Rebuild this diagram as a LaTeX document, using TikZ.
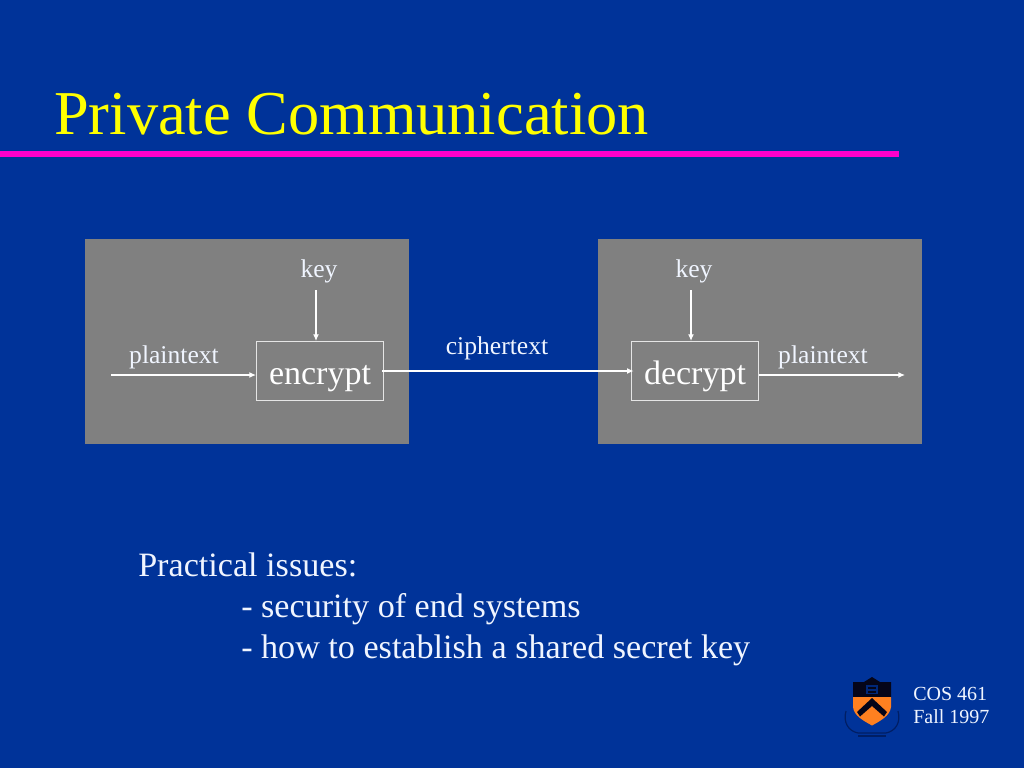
\documentclass[tikz,border=0pt]{standalone}
\usepackage{fontspec}
\setmainfont{Liberation Serif}
\usetikzlibrary{arrows.meta}
\definecolor{bg}{RGB}{0,51,153}
\definecolor{panel}{RGB}{128,128,128}
\definecolor{ttl}{RGB}{255,255,0}
\definecolor{rule}{RGB}{255,0,204}
\definecolor{txt}{RGB}{240,245,255}
\definecolor{shield}{RGB}{255,128,32}
\definecolor{crest}{RGB}{5,5,25}
\definecolor{scroll}{RGB}{0,30,100}
\newcommand{\fs}[1]{\fontsize{#1}{#1}\selectfont}
\tikzset{
 x=0.75pt,y=-0.75pt,
 panelbox/.style={fill=panel,draw=none,minimum width=243pt,minimum height=153.75pt,inner sep=0pt,anchor=north west},
 procbox/.style={draw=white!90!black,line width=1pt,minimum width=95.25pt,minimum height=44.25pt,inner sep=0pt,anchor=north west},
 boxtext/.style={text=white,font=\fs{25.5},inner sep=0pt,anchor=base},
 lab/.style={text=txt,font=\fs{19.2},inner sep=0pt,anchor=base},
 body/.style={text=txt,font=\fs{25.6},inner sep=0pt,anchor=base west},
 small/.style={text=txt,font=\fs{15},inner sep=0pt,anchor=base west},
 link/.style={draw=white,line width=0.85pt,-{Latex[length=5pt,width=4.4pt]}},
}
\begin{document}
\begin{tikzpicture}
\useasboundingbox (0,0) rectangle (1024,768);
\fill[bg] (0,0) rectangle (1024,768);
\node[text=ttl,font=\fs{46.8},inner sep=0pt,anchor=base west] (title) at (54,134) {Private Communication};
\fill[rule] (0,151) rectangle (899,157);
\node[panelbox] (p1) at (85,239) {};
\node[panelbox] (p2) at (598,239) {};
\node[procbox] (enc) at (256,341) {};
\node[procbox] (dec) at (631,341) {};
\node[boxtext] (enct) at (320,384) {encrypt};
\node[boxtext] (dect) at (695,384) {decrypt};
\node[lab] (k1) at (319,277) {key};
\node[lab] (k2) at (694,277) {key};
\node[lab] (pt1) at (174,363) {plaintext};
\node[lab] (pt2) at (823,363) {plaintext};
\node[lab] (ct) at (497,354) {ciphertext};
\coordinate (in) at (111,375);
\coordinate (out) at (905,375);
\coordinate (mid) at (382,371);
\coordinate (k1s) at (316,290);
\coordinate (k2s) at (691,290);
\draw[link] (in) -- (in -| enc.west);
\draw[link] (k1s) -- (k1s |- enc.north);
\draw[link] (k2s) -- (k2s |- dec.north);
\draw[link,shorten >=-2pt] (mid) -- (mid -| dec.west);
\draw[link] (in -| dec.east) -- (out);
\node[body] (h) at (138,576) {Practical issues:};
\node[body] (i1) at (241,617) {- security of end systems};
\node[body] (i2) at (241,658) {- how to establish a shared secret key};
\node[small] (c1) at (913,700) {COS 461};
\node[small] (c2) at (913,723) {Fall 1997};
% crest
\draw[scroll,line width=0.9pt] (846,711) .. controls (843,722) and (848,731) .. (858,733) -- (886,733) .. controls (896,731) and (901,722) .. (898,711);
\draw[scroll,line width=0.9pt] (858,736) -- (886,736);
\fill[crest] (853,682) -- (864,682) -- (872,677) -- (880,682) -- (891,682) -- (891,698) -- (853,698) -- cycle;
\fill[shield] (853,697) -- (891,697) -- (891,707) .. controls (890,716) and (880,721) .. (872,725.5) .. controls (864,721) and (854,716) .. (853,707) -- cycle;
\fill[crest] (857,712) -- (872,698) -- (887,712) -- (884,716.5) -- (872,706) -- (860,716.5) -- cycle;
\fill[scroll!60!bg] (866,685) rectangle (878,694);
\fill[crest] (868,687) rectangle (876,689);
\fill[crest] (868,690.5) rectangle (876,692.5);
\end{tikzpicture}
\end{document}
